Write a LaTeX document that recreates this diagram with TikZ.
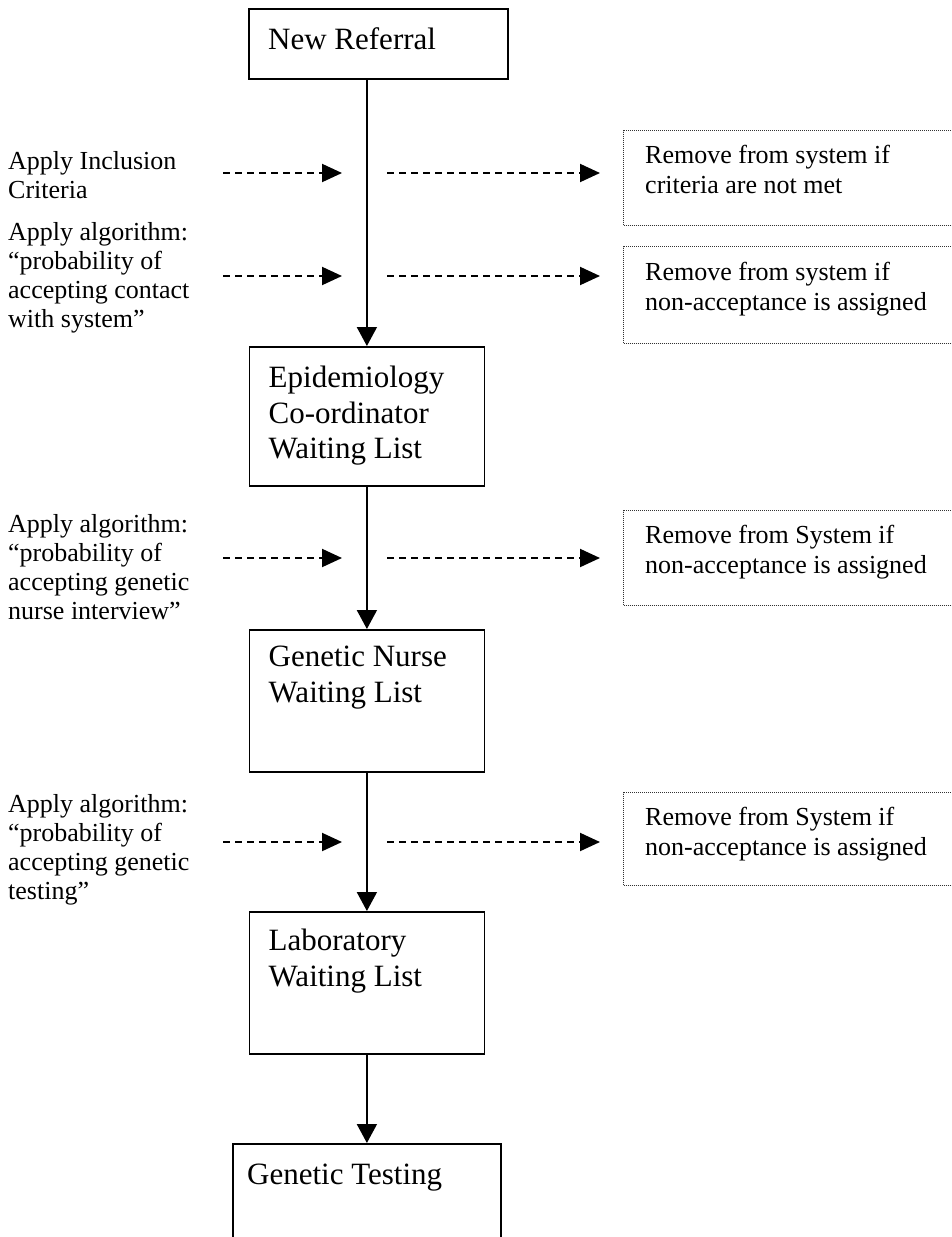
\documentclass[tikz,border=0pt]{standalone}
\usepackage{fontspec}
\setmainfont{Liberation Serif}
\usetikzlibrary{arrows.meta}
\begin{document}
\begin{tikzpicture}[x=1pt,y=-1pt,
  procbox/.style={draw, line width=1.8pt, inner sep=0pt, anchor=north west},
  boxtext/.style={anchor=north west, inner sep=0pt, align=left,
    font=\fontsize{31}{35.5}\selectfont},
  sidetext/.style={anchor=north west, inner sep=0pt, align=left,
    font=\fontsize{26}{29}\selectfont},
  droptext/.style={anchor=north west, inner sep=0pt, align=left,
    font=\fontsize{26}{30}\selectfont},
  dropbox/.style={draw=black!80, line width=1.2pt, dash pattern=on 1pt off 1pt,
    inner sep=0pt, anchor=north west},
  flowarrow/.style={line width=1.8pt, -{Triangle[length=19pt,width=20pt]}},
  dasharrow/.style={line width=2pt, dash pattern=on 7pt off 5pt,
    -{Triangle[length=20pt,width=18pt]}}]

\useasboundingbox[clip] (0,0) rectangle (952,1237);
\fill[white] (0,0) rectangle (952,1237);

% main chain of waiting lists
\node[procbox, minimum width=259pt, minimum height=70pt] (nr) at (248,8) {};
\node[boxtext] (nrt) at ([shift={(20,19)}]nr.north west) {New Referral};

\node[procbox, minimum width=235pt, minimum height=139pt] (epi) at (248.5,346) {};
\node[boxtext] (epit) at ([shift={(20,20)}]epi.north west) {Epidemiology\\Co-ordinator\\Waiting List};

\node[procbox, minimum width=235pt, minimum height=142pt] (gn) at (248.5,629) {};
\node[boxtext] (gnt) at ([shift={(20,17)}]gn.north west) {Genetic Nurse\\Waiting List};

\node[procbox, minimum width=235pt, minimum height=142pt] (lab) at (248.5,911) {};
\node[boxtext] (labt) at ([shift={(20,18)}]lab.north west) {Laboratory\\Waiting List};

\node[procbox, minimum width=268pt, minimum height=140pt] (gt) at (232,1143) {};
\node[boxtext] (gtt) at ([shift={(15,21)}]gt.north west) {Genetic Testing};

\draw[flowarrow] (nr.south -| epi.north) -- (epi.north);
\draw[flowarrow] (epi.south) -- (gn.north);
\draw[flowarrow] (gn.south) -- (lab.north);
\draw[flowarrow] (lab.south) -- (lab.south |- gt.north);

% criteria and algorithms applied along the way
\node[sidetext] (c1) at (8,151) {Apply Inclusion\\Criteria};
\node[sidetext] (c2) at (8,222) {Apply algorithm:\\“probability of\\accepting contact\\with system”};
\node[sidetext] (c3) at (8,514) {Apply algorithm:\\“probability of\\accepting genetic\\nurse interview”};
\node[sidetext] (c4) at (8,794) {Apply algorithm:\\“probability of\\accepting genetic\\testing”};

% removal outcomes
\node[dropbox, minimum width=360pt, minimum height=95pt] (d1) at (623,130) {};
\node[droptext] (d1t) at (645,145) {Remove from system if\\criteria are not met};
\node[dropbox, minimum width=360pt, minimum height=97pt] (d2) at (623,246) {};
\node[droptext] (d2t) at (645,262) {Remove from system if\\non-acceptance is assigned};
\node[dropbox, minimum width=360pt, minimum height=95pt] (d3) at (623,510) {};
\node[droptext] (d3t) at (645,525) {Remove from System if\\non-acceptance is assigned};
\node[dropbox, minimum width=360pt, minimum height=93pt] (d4) at (623,792) {};
\node[droptext] (d4t) at (645,807) {Remove from System if\\non-acceptance is assigned};

% dashed decision arrows on either side of the main chain
\foreach \i/\yy in {1/173, 2/276, 3/558, 4/842} {
  \coordinate (ls\i) at (223,\yy);
  \coordinate (le\i) at (342,\yy);
  \coordinate (rs\i) at (387,\yy);
  \coordinate (re\i) at (600,\yy);
  \draw[dasharrow] (ls\i) -- (le\i);
  \draw[dasharrow] (rs\i) -- (re\i);
}
\end{tikzpicture}
\end{document}
